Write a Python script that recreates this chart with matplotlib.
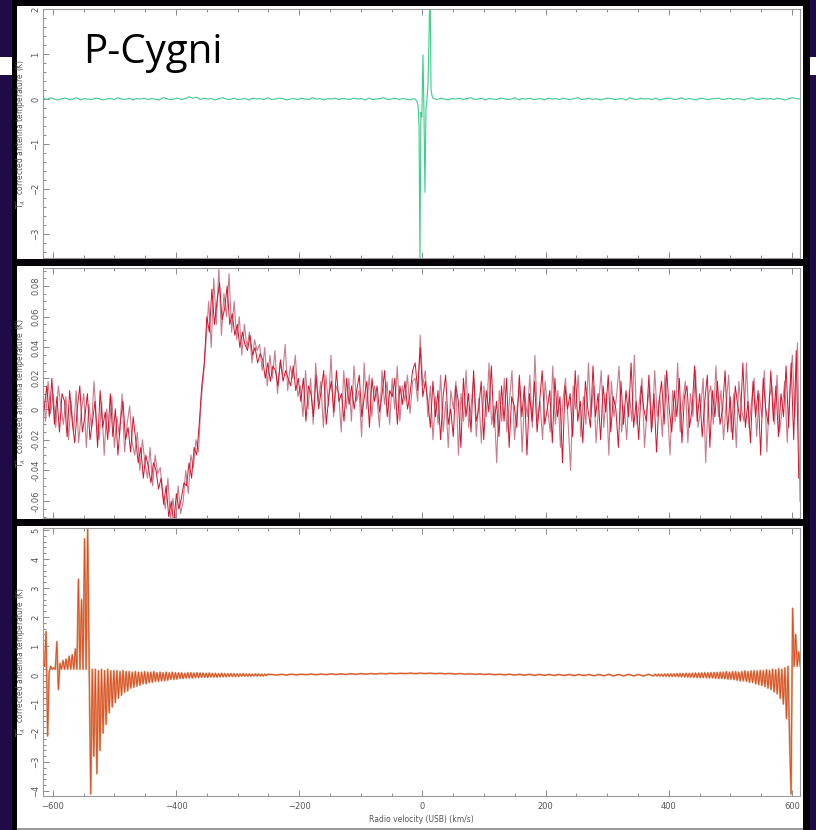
import numpy as np
import matplotlib
matplotlib.use("Agg")
import matplotlib.pyplot as plt
from matplotlib.patches import Rectangle
from matplotlib.ticker import MultipleLocator, FuncFormatter

# ---------------- data ----------------
XLIM = (-616, 613)

# Panel 1 (green, P-Cygni spectrum) baseline noise in 0.01 K
t1_left = [2,-1,3,0,-2,1,2,-1,0,3,-2,1,0,-1,2,1,-2,0,1,-1,3,0,-1,2,-2,1,0,2,-1,1,0,-2,3,1,-1,0,2,-1,1,5,
           2,4,-1,2,0,1,-2,1,3,0,-1,2,-1,0,1,-2,2,0,1,-1,3,-1,0,2,1,-2,0,1,-1,2,0,-1,3,0,1,-2,1,0,2,-1,
           1,0,-1,2,0,1,-2,2,-1,0,1,3,-1,0,2,-1,1,0,-2,1]
v1_spike = [-12, -9, -7, -5.5, -4, -2.5, -1, 0.9, 2.5, 4.1, 5.8, 7.4, 9, 10.6, 12.3, 14, 16]
t1_spike = [0.0, -0.05, -0.15, -0.6, -3.6, -0.3, -0.4, 0.98, -0.3, -2.07, -0.2, 0.0, 0.3, 1.3, 2.6, 0.2, 0.05]
t1_right = [1,-1,2,0,-2,1,0,2,-1,1,3,-1,0,2,-2,1,0,-1,2,1,-1,0,3,-2,1,0,2,-1,0,1,-2,2,0,1,-1,2,0,-1,1,3,
            -1,0,2,-1,1,-2,0,2,1,-1,0,1,-2,3,0,-1,2,0,1,-1,2,-2,0,1,2,-1,0,3,-1,1,0,-2,2,1,-1,0,1,2,-1,0,
            2,-1,1,0,-2,1,3,0,-1,2,0,1,-1,2,0,-2,1,3,1,0]

# Panel 2: two overlapping spectra (units of 0.001 K)
t2_rose = [12,-8,18,-3,10,-12,15,2,
           -10,8,-20,5,-15,12,-22,-2,10,-25,3,-12,18,-8,-20,5,-30,0,-15,8,-25,-5,-18,10,-28,-10,2,-22,
           -30,-15,-40,-20,-35,-45,-25,-50,-30,-42,-38,
           -55,-65,-45,-72,-58,-75,-50,-68,-60,
           -40,-55,-30,-38,-20,-28,
           5,22,
           45,70,40,85,55,92,48,75,60,88,50,70,
           45,60,35,55,40,50,30,45,38,42,
           25,40,15,35,20,38,10,30,22,42,12,28,20,35,8,
           15,-5,25,0,20,-10,30,5,18,-12,22,2,35,-5,15,10,-15,25,0,20,-8,28,5,12,-18,30,0,22,-5,15,
           8,-12,25,3,18,-10,20,0,28,-8,15,5,22,-3,18,
           20,5,48,15,25,
           -5,15,-20,8,-10,22,-15,5,-25,12,0,18,-30,10,-8,25,-12,3,20,-18,7,-22,15,-5,30,-10,2,-35,12,-8,
           20,-15,5,25,-20,0,15,-28,10,-5,22,-12,35,-8,5,-20,18,0,-15,28,-10,12,-25,5,20,-8,-40,15,0,22,
           -18,8,-10,30,-5,15,-22,3,25,-12,10,-30,18,-5,8,28,-15,2,-20,12,-8,35,-10,5,20,-25,0,15,-12,25,
           -5,8,-18,22,0,-30,12,-8,30,-15,5,18,-22,10,-5,25,-12,0,20,-35,8,15,-10,28,-5,12,-20,3,22,-15,
           10,-25,18,0,-8,30,-12,5,20,-18,10,-5,25,-28,8,15,-10,22,-15,0,18,-22,12,35,-5,43,-60]
t2_red = [0,15,-5,20,-10,8,-15,10,
          5,-18,12,-8,-22,0,15,-15,-5,10,-20,-8,5,-25,12,-12,-2,-20,10,-18,0,-30,-8,5,-20,-12,-28,-5,
          -20,-35,-25,-45,-30,-38,-48,-35,-40,-52,-45,
          -62,-50,-70,-60,-75,-55,-65,-58,-48,
          -50,-35,-45,-25,-30,-10,
          15,30,
          60,50,78,55,70,82,58,65,80,55,62,48,
          55,40,50,42,38,48,35,40,30,36,
          32,20,30,18,28,25,15,32,18,25,20,15,28,12,20,
          5,20,-8,15,10,-5,22,0,12,25,-10,8,18,-2,25,5,10,-8,20,3,15,0,12,22,-5,8,18,-12,20,5,
          15,-2,10,25,-5,12,8,20,-10,15,3,18,0,10,25,
          30,12,40,8,18,
          5,-12,18,-5,12,-20,8,22,-10,0,-18,15,5,-25,20,-5,10,-15,25,-8,0,18,-20,12,-2,28,-12,5,-18,15,
          -8,20,-25,8,2,-12,22,-5,15,-30,10,-8,18,-15,5,25,-10,0,12,-22,20,-5,8,-35,15,0,10,-18,25,-8,
          5,-22,18,0,-12,28,-5,10,-20,15,-2,22,-15,8,0,-25,18,-10,12,-5,30,-12,5,-20,15,0,-8,22,-15,10,
          -28,5,18,-10,25,0,-15,12,-5,20,-22,8,15,-12,0,28,-8,10,-18,5,22,-25,12,-5,18,-10,0,25,-15,8,
          -20,15,2,-8,30,-12,5,-22,18,-5,12,-30,20,0,-10,25,-8,15,-18,10,-5,28,-12,30,-20,38,-45]

# Panel 3: ringing spectrum (K)
t3_pos = [0.5,0.3,1.5,-2.1,0.1,0.3,0.2,0.25,0.2,1.15,-0.5,0.4,0.2,0.5,0.2,0.55,0.2,0.65,0.2,0.7,
          0.2,0.9,0.2,3.3,0.2,2.6,0.2,4.7,0.2,5.1,0.2]
t3_neg = [-4.1,0.2,-2.8,0.2,-3.4,0.15,-2.6,0.2,-2.0,0.15,-1.7,0.2,-1.3,0.15,-1.1,0.15,-0.95,0.15,-0.8,0.12,
          -0.7,0.15,-0.6,0.12,-0.55,0.12,-0.45,0.1,-0.42,0.12,-0.38,0.1,-0.35,0.1,-0.3,0.12,-0.3,0.1,-0.26,0.1,
          -0.25,0.12,-0.22,0.08,-0.22,0.1,-0.2,0.08,-0.2,0.1,-0.18,0.08,-0.15,0.1,-0.15,0.08,-0.14,0.08,-0.12,0.08,
          -0.12,0.06,-0.1,0.08]
t3_tail = [-0.1,0.08,-0.1,0.07,-0.09,0.08,-0.09,0.07,-0.08,0.07,
           -0.08,0.06,-0.08,0.07,-0.07,0.06,-0.07,0.06,-0.07,0.05,
           -0.06,0.06,-0.06,0.05,-0.06,0.05,-0.05,0.05,-0.05,0.05,
           -0.05,0.04,-0.05,0.04,-0.04,0.05,-0.04,0.04,-0.04,0.04,
           -0.04,0.03,-0.03,0.04,-0.03,0.04,-0.03,0.03,-0.03,0.03,
           -0.02,0.03]
t3_mid = [0.02,0.0,0.025,0.0,0.03,0.005,0.03,0.01,0.035,0.01,0.035,0.015,0.04,0.02,0.04,0.02,
          0.045,0.025,0.05,0.03,0.05,0.035,0.055,0.04,0.06,0.045,0.06,0.05,0.065,0.05,0.065,
          0.05,0.065,0.045,0.06,0.04,0.055,0.035,0.05,0.03,0.045,0.025,0.04,0.02,0.035,0.01,0.03,
          0.005,0.03,0.0,0.025,-0.005,0.025,-0.01,0.02,-0.01,0.02,-0.015,0.02,-0.015,0.02,-0.02,
          0.02,-0.02,0.02,-0.025,0.02,-0.025,0.025,-0.03,0.02,-0.03,0.025,-0.03,0.02,-0.035,0.025,-0.03]
t3_ramp = [0.03,-0.03,0.03,-0.035,0.03,-0.04,0.035,-0.04,0.04,-0.045,0.04,
           -0.05,0.045,-0.05,0.05,-0.055,0.05,-0.06,0.055,-0.065,0.06,
           -0.07,0.06,-0.075,0.065,-0.08,0.07,-0.085,0.07,-0.09,0.075,
           -0.09,0.08,-0.095,0.08,-0.1,0.085,-0.1,0.09,-0.11,0.09]
t3_right = [-0.12,0.1,-0.12,0.1,-0.13,0.12,-0.14,0.1,-0.15,0.12,
            -0.16,0.12,-0.18,0.1,-0.2,0.12,-0.2,0.14,-0.22,0.12,
            -0.25,0.14,-0.26,0.15,-0.3,0.14,-0.33,0.16,-0.36,0.15,
            -0.4,0.18,-0.45,0.16,-0.5,0.2,-0.58,0.18,-0.65,0.22,
            -0.8,0.2,-1.0,0.25,-1.5,0.3,-2.1,-4.1,2.3,0.3,1.4,0.3,0.8,0.3]

# channel grids (velocity, km/s)
v1 = np.concatenate([np.linspace(-616, -14, len(t1_left)), v1_spike,
                     np.linspace(18, 613, len(t1_right))])
t1 = np.concatenate([np.array(t1_left) * 0.01, t1_spike, np.array(t1_right) * 0.01])
v2_rose = np.linspace(-616, 613, len(t2_rose))
v2_red = np.linspace(-614, 611, len(t2_red))
v3 = np.concatenate([np.linspace(-616, -541, len(t3_pos)),
                     np.linspace(-538.5, -381, len(t3_neg)),
                     np.linspace(-378.5, -251, len(t3_tail)),
                     np.linspace(-245, 375, len(t3_mid)),
                     np.linspace(378, 478.5, len(t3_ramp)),
                     np.linspace(481, 613.5, len(t3_right))])
t3 = np.concatenate([t3_pos, t3_neg, t3_tail, t3_mid, t3_ramp, t3_right])

YLABEL = r"T$_A^*$  corrected antenna temperature (K)"
XLABEL = "Radio velocity (USB) (km/s)"

# ---------------- figure ----------------
W, H = 816, 830
fig = plt.figure(figsize=(W / 100, H / 100), dpi=100)
fig.patch.set_facecolor('#1f0b47')


def rect(x0, y0, x1, y1, color):
    fig.add_artist(Rectangle((x0 / W, 1 - y1 / H), (x1 - x0) / W, (y1 - y0) / H,
                             transform=fig.transFigure, facecolor=color, edgecolor='none', zorder=0))


rect(12, 0, 810, 830, '#050308')
rect(17, 6, 803, 259, 'white')
rect(17, 266, 803, 519, 'white')
rect(17, 526, 803, 828, 'white')
rect(17, 828, 803, 830, '#9a9a9a')
rect(0, 57, 12, 75, 'white')
rect(810, 57, 816, 75, 'white')


def make_ax(top, bottom):
    ax = fig.add_axes([43 / W, 1 - bottom / H, (800 - 43) / W, (bottom - top) / H])
    ax.set_xlim(*XLIM)
    for s in ax.spines.values():
        s.set_color('#9a9a9a')
        s.set_linewidth(0.8)
    ax.xaxis.set_major_locator(MultipleLocator(200))
    ax.xaxis.set_minor_locator(MultipleLocator(50))
    ax.tick_params(which='both', direction='in', top=True, right=False, colors='#777777',
                   labelcolor='#555555', labelsize=6, width=0.6)
    ax.tick_params(which='major', length=4)
    ax.tick_params(which='minor', length=2)
    ax.tick_params(axis='y', labelrotation=90, pad=2)
    fig.text(21 / W, 1 - (top + bottom) / 2 / H, YLABEL, rotation=90, fontsize=5.5,
             color='#555555', ha='center', va='center')
    return ax


# Panel 1
ax1 = make_ax(9, 258)
ax1.plot(v1, t1, color='#3ccc8c', lw=0.8)
ax1.set_ylim(-3.53, 2.0)
ax1.yaxis.set_major_locator(MultipleLocator(1))
ax1.yaxis.set_minor_locator(MultipleLocator(0.2))
ax1.tick_params(axis='x', labelbottom=False)
ax1.text(83 / W, 1 - 63 / H, "P-Cygni", transform=fig.transFigure, fontsize=29,
         family='Open Sans', color='black', va='baseline', ha='left')

# Panel 2
ax2 = make_ax(268, 518)
ax2.plot(v2_rose, np.array(t2_rose) * 0.001, color='#c77d8e', lw=0.8)
ax2.plot(v2_red, np.array(t2_red) * 0.001, color='#d4122c', lw=0.7)
ax2.set_ylim(-0.0709, 0.0917)
ax2.yaxis.set_major_locator(MultipleLocator(0.02))
ax2.yaxis.set_minor_locator(MultipleLocator(0.005))
ax2.yaxis.set_major_formatter(FuncFormatter(lambda y, p: f"{y:g}" if abs(y) > 1e-9 else "0"))
ax2.tick_params(axis='x', labelbottom=False)

# Panel 3
ax3 = make_ax(528, 796)
ax3.plot(v3, t3, color='#d9a37e', lw=1.4)
ax3.plot(v3, t3, color='#e24a1c', lw=0.6)
ax3.set_ylim(-4.17, 5.07)
ax3.yaxis.set_major_locator(MultipleLocator(1))
ax3.yaxis.set_minor_locator(MultipleLocator(0.2))
ax3.tick_params(axis='x', pad=4)
ax3.set_xlabel(XLABEL, fontsize=5.5, color='#555555', labelpad=3)

for ax in (ax1, ax2, ax3):
    for lab in ax.get_yticklabels():
        lab.set_va('center')

fig.savefig('out.png', dpi=100, facecolor=fig.get_facecolor())
